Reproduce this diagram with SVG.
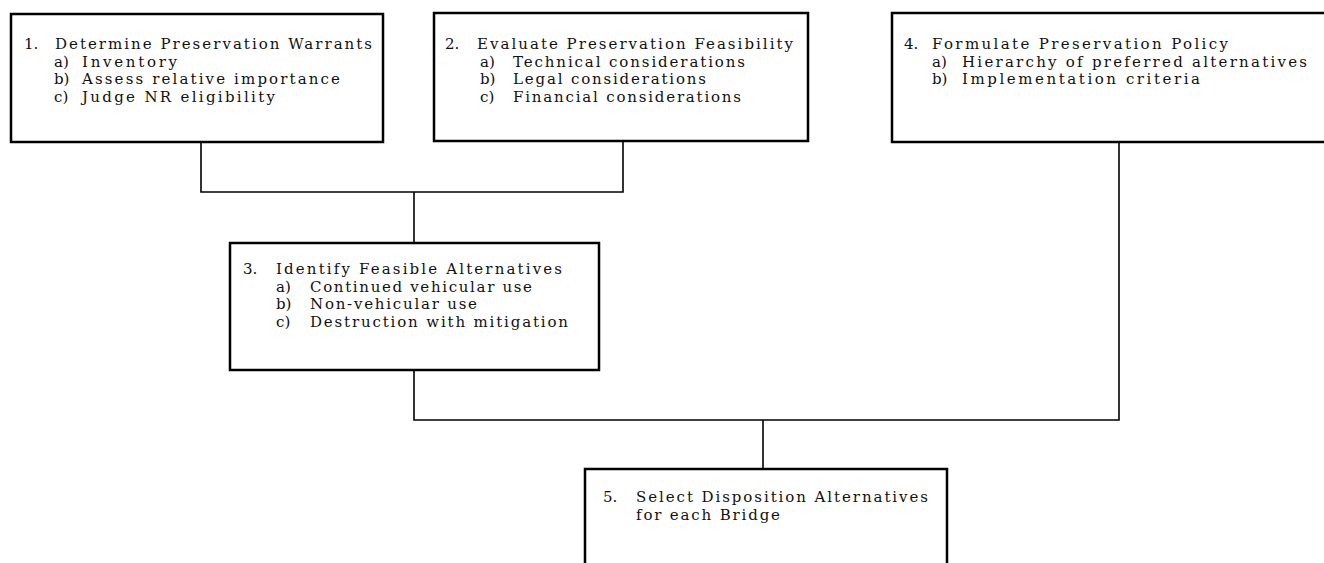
<svg xmlns="http://www.w3.org/2000/svg" width="1324" height="563" viewBox="0 0 1324 563">
<style>
.box{fill:#fff;stroke:#000;stroke-width:2.5}
.con{fill:none;stroke:#000;stroke-width:1.6}
text{font-family:"DejaVu Serif","Liberation Serif",serif;font-size:15px;fill:#111}
</style>
<rect width="1324" height="563" fill="#fff"/>
<g id="connectors">
<path class="con" d="M201,142 V192 H623 V141"/>
<path class="con" d="M414,192 V243"/>
<path class="con" d="M414,370 V420 H1119 V142"/>
<path class="con" d="M763,420 V469"/>
</g>
<g id="node1">
<rect class="box" x="11" y="14" width="372" height="128"/>
<text x="24" y="49">1.</text>
<text x="55" y="49" textLength="317" lengthAdjust="spacing">Determine Preservation Warrants</text>
<text x="54" y="66.5">a)</text>
<text x="82" y="66.5" textLength="95" lengthAdjust="spacing">Inventory</text>
<text x="54" y="84">b)</text>
<text x="82" y="84" textLength="258" lengthAdjust="spacing">Assess relative importance</text>
<text x="54" y="101.5">c)</text>
<text x="82" y="101.5" textLength="193" lengthAdjust="spacing">Judge NR eligibility</text>
</g>
<g id="node2">
<rect class="box" x="434" y="13" width="374" height="128"/>
<text x="445" y="49">2.</text>
<text x="477" y="49" textLength="316" lengthAdjust="spacing">Evaluate Preservation Feasibility</text>
<text x="480" y="66.5">a)</text>
<text x="513" y="66.5" textLength="232" lengthAdjust="spacing">Technical considerations</text>
<text x="480" y="84">b)</text>
<text x="513" y="84" textLength="193" lengthAdjust="spacing">Legal considerations</text>
<text x="480" y="101.5">c)</text>
<text x="513" y="101.5" textLength="228" lengthAdjust="spacing">Financial considerations</text>
</g>
<g id="node3">
<rect class="box" x="230" y="243" width="369" height="127"/>
<text x="243" y="274">3.</text>
<text x="276" y="274" textLength="286" lengthAdjust="spacing">Identify Feasible Alternatives</text>
<text x="276" y="291.5">a)</text>
<text x="310" y="291.5" textLength="222" lengthAdjust="spacing">Continued vehicular use</text>
<text x="276" y="309">b)</text>
<text x="310" y="309" textLength="167" lengthAdjust="spacing">Non-vehicular use</text>
<text x="276" y="326.5">c)</text>
<text x="310" y="326.5" textLength="258" lengthAdjust="spacing">Destruction with mitigation</text>
</g>
<g id="node4">
<rect class="box" x="892" y="13" width="460" height="129"/>
<text x="904" y="49">4.</text>
<text x="932" y="49" textLength="296" lengthAdjust="spacing">Formulate Preservation Policy</text>
<text x="932" y="66.5">a)</text>
<text x="962" y="66.5" textLength="345" lengthAdjust="spacing">Hierarchy of preferred alternatives</text>
<text x="932" y="84">b)</text>
<text x="962" y="84" textLength="238" lengthAdjust="spacing">Implementation criteria</text>
</g>
<g id="node5">
<rect class="box" x="585" y="469" width="362" height="120"/>
<text x="603" y="502">5.</text>
<text x="636" y="502" textLength="292" lengthAdjust="spacing">Select Disposition Alternatives</text>
<text x="636" y="520" textLength="144" lengthAdjust="spacing">for each Bridge</text>
</g>
</svg>
